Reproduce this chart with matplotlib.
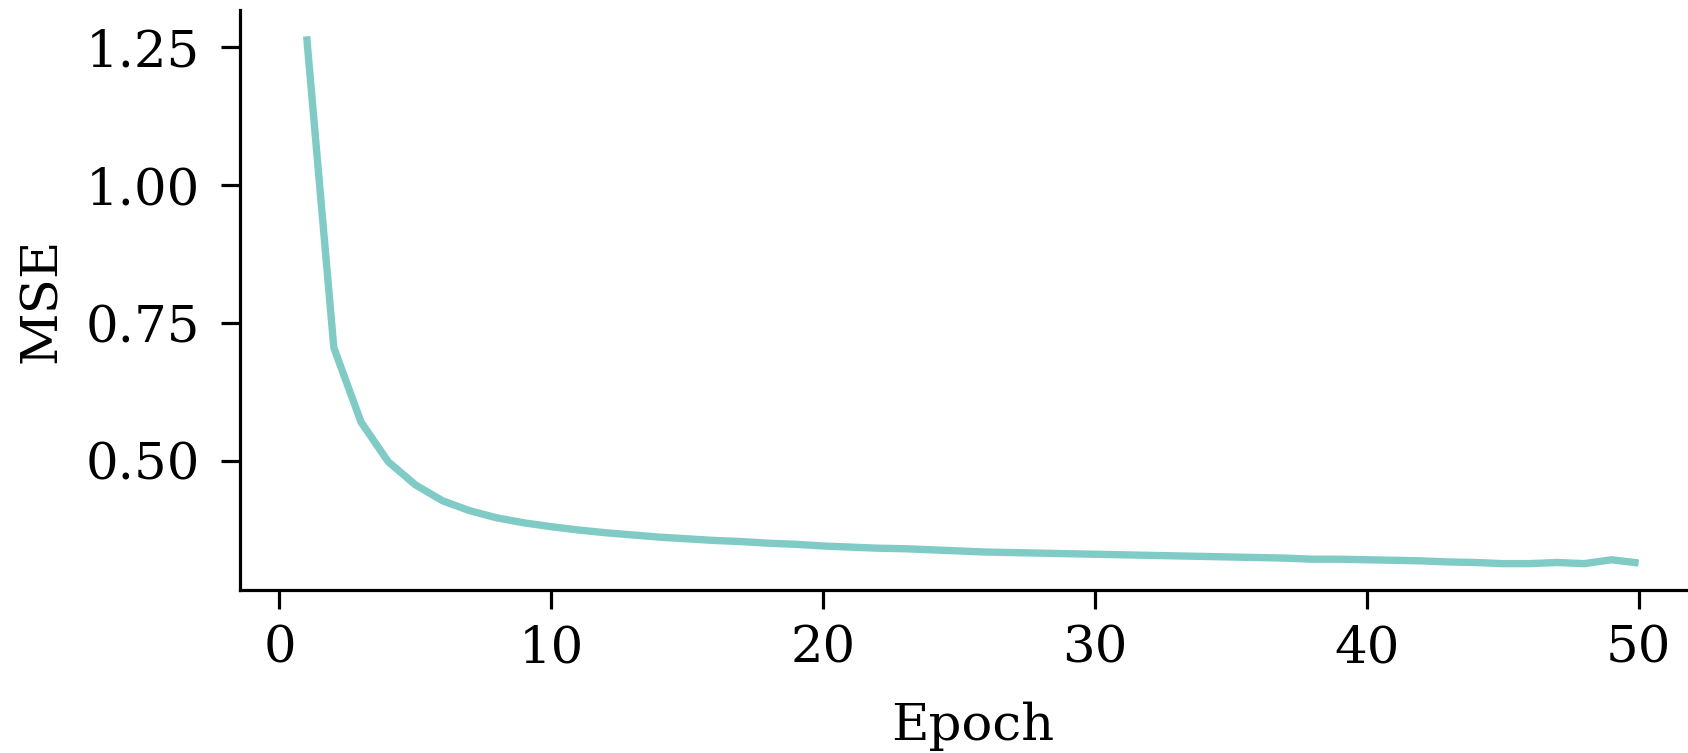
import matplotlib
matplotlib.use("Agg")
import matplotlib.pyplot as plt

# training curve
epochs = list(range(1, 51))
mse = [
    1.270, 0.705, 0.570, 0.498, 0.456, 0.427, 0.409, 0.396, 0.387, 0.380,
    0.374, 0.369, 0.365, 0.361, 0.358, 0.355, 0.353, 0.350, 0.348, 0.345,
    0.343, 0.341, 0.340, 0.338, 0.336, 0.334, 0.333, 0.332, 0.331, 0.330,
    0.329, 0.328, 0.327, 0.326, 0.325, 0.324, 0.323, 0.321, 0.321, 0.320,
    0.319, 0.318, 0.316, 0.315, 0.313, 0.313, 0.315, 0.313, 0.320, 0.314,
]
x_label = "Epoch"
y_label = "MSE"
line_color = "#80cbc6"

plt.rcParams["font.family"] = ["DejaVu Serif"]

fig = plt.figure(figsize=(16.88, 7.53), dpi=100)
ax = fig.add_axes([0.1422, 0.2165, 0.868, 0.7703])

ax.plot(epochs, mse, color=line_color, linewidth=5.3,
        solid_capstyle="butt", solid_joinstyle="round")

ax.set_xlabel(x_label, fontsize=37, labelpad=20)
ax.set_ylabel(y_label, fontsize=37, labelpad=14)
ax.set_yticks([0.50, 0.75, 1.00, 1.25])
ax.set_xticks([0, 10, 20, 30, 40, 50])

for side in ["top", "right"]:
    ax.spines[side].set_visible(False)
for side in ["left", "bottom"]:
    ax.spines[side].set_linewidth(2.3)

ax.tick_params(axis="both", labelsize=37, length=13.5, width=2.3)
ax.tick_params(axis="x", pad=11)
ax.tick_params(axis="y", pad=15)

fig.savefig("out.png", dpi=100)
